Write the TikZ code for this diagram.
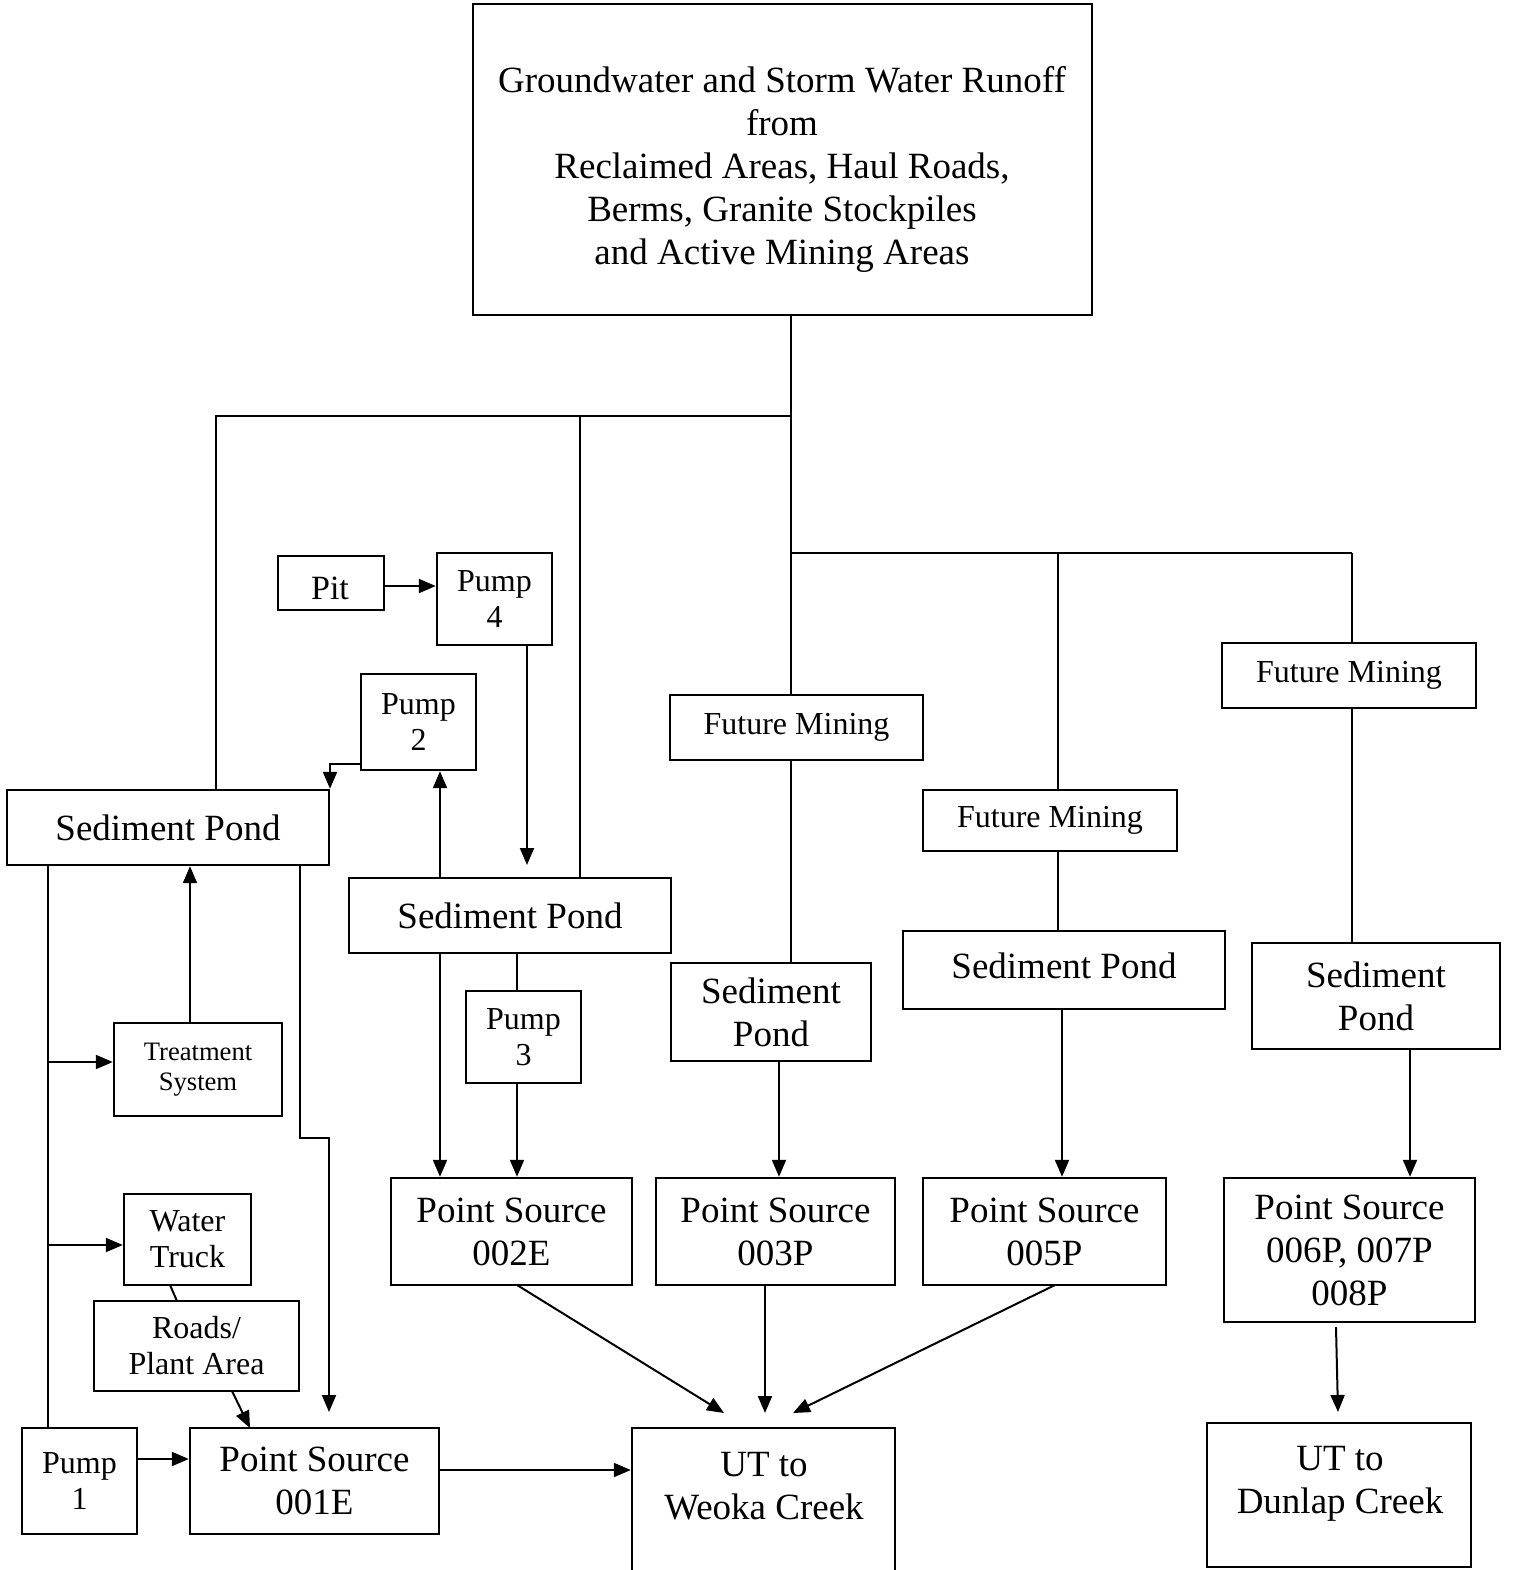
\documentclass[tikz,border=0pt]{standalone}
\usepackage{fontspec}
\setmainfont{Liberation Serif}
\usetikzlibrary{arrows.meta,calc}
\newcommand\bxnode[7]{\node[box,#6,minimum width={(#4-#2)*0.5pt},minimum height={(#5-#3)*0.5pt}] (#1) at ({(#2+#4)/2},{(#3+#5)/2}) {#7};}
\begin{document}
\begin{tikzpicture}[x=0.5pt,y=-0.5pt,
  box/.style={draw,line width=1.2pt,inner sep=0pt,align=center,rectangle},
  big/.style={font=\fontsize{18.5}{21.5}\selectfont},
  mid/.style={font=\fontsize{16}{18}\selectfont},
  sml/.style={font=\fontsize{13.3}{15}\selectfont},
  ln/.style={line width=1pt},
  arr/.style={line width=1pt,-{Triangle[length=8.5pt,width=7pt]}},
  txt/.style={inner sep=0pt,align=center}]
\useasboundingbox (0,0) rectangle (1512,1570);
% boxes
\bxnode{top}{473}{4}{1092}{315}{}{}
\node[txt,big] (topt) at (782,169) {Groundwater and Storm Water Runoff\\from\\Reclaimed Areas, Haul Roads,\\Berms, Granite Stockpiles\\and Active Mining Areas};
\bxnode{pit}{278}{556}{384}{610}{}{}
\node[txt,font=\fontsize{17}{19}\selectfont] (pitt) at (330,588) {Pit};
\bxnode{pump4}{437}{553}{552}{645}{mid}{Pump\\4}
\bxnode{pump2}{361}{674}{476}{770}{mid}{Pump\\2}
\bxnode{fm1}{670}{695}{923}{760}{mid}{Future Mining}
\bxnode{fm2}{923}{790}{1177}{851}{mid}{Future Mining}
\bxnode{fm3}{1222}{643}{1476}{708}{mid}{Future Mining}
\bxnode{sp1}{7}{790}{329}{865}{big}{Sediment Pond}
\bxnode{sp2}{349}{878}{671}{953}{big}{Sediment Pond}
\bxnode{sp3}{671}{963}{871}{1061}{big}{Sediment\\Pond}
\bxnode{sp4}{903}{931}{1225}{1009}{}{}
\node[txt,big] (sp4t) at (1064,966) {Sediment Pond};
\bxnode{sp5}{1252}{943}{1500}{1049}{big}{Sediment\\Pond}
\bxnode{pump3}{466}{991}{581}{1083}{mid}{Pump\\3}
\bxnode{treat}{114}{1023}{282}{1116}{sml}{Treatment\\System}
\bxnode{truck}{124}{1194}{251}{1285}{mid}{Water\\Truck}
\bxnode{roads}{94}{1301}{299}{1391}{mid}{Roads/\\Plant Area}
\bxnode{pump1}{22}{1428}{137}{1534}{mid}{Pump\\1}
\bxnode{ps1}{190}{1428}{439}{1534}{big}{Point Source\\001E}
\bxnode{weoka}{632}{1428}{895}{1582}{}{}
\node[txt,big] (weokat) at (764,1486) {UT to\\Weoka Creek};
\bxnode{ps2}{391}{1178}{632}{1285}{big}{Point Source\\002E}
\bxnode{ps3}{656}{1178}{895}{1285}{big}{Point Source\\003P}
\bxnode{ps5}{923}{1178}{1166}{1285}{big}{Point Source\\005P}
\bxnode{ps6}{1224}{1178}{1475}{1322}{big}{Point Source\\006P, 007P\\008P}
\bxnode{dunlap}{1207}{1423}{1471}{1567}{}{}
\node[txt,big] (dunlapt) at (1340,1484) {UT to\\Dunlap Creek};
% junction coordinates
\coordinate (j1) at (791,416);
\coordinate (j2) at (791,553);
\coordinate (k1) at (216,416);
\coordinate (k2) at (580,416);
\coordinate (k3) at (1058,553);
\coordinate (k4) at (1352,553);
% top tree
\draw[ln] (j1 |- top.south) -- (j2);
\draw[ln] (j1) -- (k1) -- (k1 |- sp1.north);
\draw[ln] (k2) -- (k2 |- sp2.north);
\draw[ln] (j2) -- (k4);
\draw[ln] (j2) -- (j2 |- fm1.north);
\draw[ln] (j2 |- fm1.south) -- (j2 |- sp3.north);
\draw[ln] (k3) -- (k3 |- fm2.north);
\draw[ln] (k3 |- fm2.south) -- (k3 |- sp4.north);
\draw[ln] (k4) -- (k4 |- fm3.north);
\draw[ln] (k4 |- fm3.south) -- (k4 |- sp5.north);
% pit / pumps
\coordinate (x527) at (527,865);
\coordinate (x440) at (440,0);
\coordinate (c2) at (330,764);
\coordinate (p1) at (384,586);
\draw[arr] (p1) -- (p1 -| pump4.west);
\draw[arr] (x527 |- pump4.south) -- (x527);
\draw[arr] (x440 |- sp2.north) -- (x440 |- pump2.south);
\draw[arr] (pump2.west |- c2) -- (c2) -- (c2 |- sp1.north);
% left column
\coordinate (x48) at (48,0);
\coordinate (b1) at (48,1062);
\coordinate (b2) at (48,1245);
\coordinate (x190) at (190,0);
\coordinate (c5) at (300,1138);
\coordinate (c6) at (329,1138);
\coordinate (c7) at (329,1412);
\draw[ln] (x48 |- sp1.south) -- (x48 |- pump1.north);
\draw[arr] (b1) -- (b1 -| treat.west);
\draw[arr] (b2) -- (b2 -| truck.west);
\draw[arr] (x190 |- treat.north) -- (x190 |- sp1.south);
\draw[arr] (c5 |- sp1.south) -- (c5) -- (c6) -- (c7);
\coordinate (t1) at (170,1285);
\coordinate (t2) at (177,1301);
\draw[ln] (t1) -- (t2);
\coordinate (r1) at (232,1391);
\coordinate (r2) at (250,1428);
\draw[arr] (r1) -- (r2);
\coordinate (c8) at (137,1459);
\draw[arr] (c8) -- (c8 -| ps1.west);
\coordinate (c9) at (439,1470);
\draw[arr] (c9) -- (c9 -| weoka.west);
% middle
\coordinate (x517) at (517,0);
\coordinate (x779) at (779,0);
\coordinate (x1062) at (1062,0);
\coordinate (x1410) at (1410,0);
\draw[arr] (x440 |- sp2.south) -- (x440 |- ps2.north);
\draw[ln] (x517 |- sp2.south) -- (x517 |- pump3.north);
\draw[arr] (x517 |- pump3.south) -- (x517 |- ps2.north);
\draw[arr] (x779 |- sp3.south) -- (x779 |- ps3.north);
\draw[arr] (x1062 |- sp4.south) -- (x1062 |- ps5.north);
\draw[arr] (x1410 |- sp5.south) -- (x1410 |- ps6.north);
% to creeks
\coordinate (w1) at (724,1413);
\coordinate (w2) at (765,1413);
\coordinate (w3) at (793,1413);
\coordinate (d1) at (1338,1412);
\coordinate (s2) at (517,1285);
\coordinate (s5) at (1055,1285);
\coordinate (s6) at (1336,1327);
\draw[arr] (s2) -- (w1);
\draw[arr] (w2 |- ps3.south) -- (w2);
\draw[arr] (s5) -- (w3);
\draw[arr] (s6) -- (d1);
\end{tikzpicture}
\end{document}
